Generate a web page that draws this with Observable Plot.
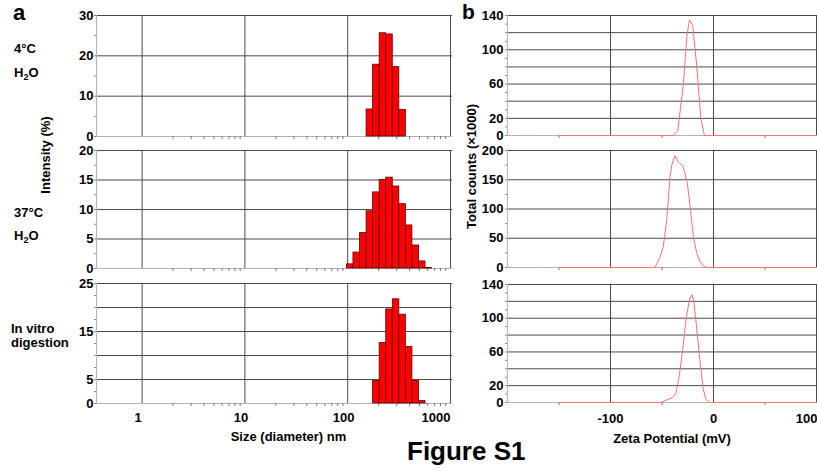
<!DOCTYPE html>
<html><head><meta charset="utf-8">
<script src="https://cdn.jsdelivr.net/npm/d3@7"></script>
<script src="https://cdn.jsdelivr.net/npm/@observablehq/plot@0.6"></script>
<style>
body{margin:0;background:#fff;}
#root{position:relative;width:817px;height:471px;overflow:hidden;background:#fff;font-family:"Liberation Sans",Arial,sans-serif;}
.p{position:absolute;}
#overlay{position:absolute;left:0;top:0;pointer-events:none;}
</style></head><body><div id="root"></div>
<script>
// ---- data: size distribution (intensity %, Malvern size classes, nm) ----
const sizeBins4C  = [164.2, 190.1, 220.2, 255.0, 295.3, 342.0];
const intensity4C = [6.7, 17.8, 25.6, 25.3, 17.2, 6.6];
const sizeBins37C  = [105.7, 122.4, 141.8, 164.2, 190.1, 220.2, 255.0, 295.3, 342.0, 396.1, 458.7, 531.2, 615.1];
const intensity37C = [0.7, 2.7, 6.0, 9.7, 12.9, 15.0, 15.4, 13.9, 10.9, 7.3, 3.9, 1.2, 0.1];
const sizeBinsDig  = [190.1, 220.2, 255.0, 295.3, 342.0, 396.1, 458.7, 531.2];
const intensityDig = [4.7, 12.6, 19.6, 21.7, 18.5, 11.8, 4.7, 0.5];
const binRatio = 1.158;

// ---- data: zeta potential distributions (mV, total counts x1000) ----
const zeta4C   = [-150, -39, -34.7, -29.2, -25.9, -23.4, -20.1, -16.2, -12.3, -8.8, 100];
const counts4C = [0, 0, 5.8, 60, 115, 135, 128, 80, 19.5, 0, 0];
const zeta37C   = [-150, -56.8, -51.9, -48.7, -45.4, -42.2, -40.5, -37.3, -34.1, -29.8, -27.6, -25.3, -22.7, -19.5, -16.2, -13, -9.7, -6.4, 100];
const counts37C = [0, 0, 18, 36, 81, 155, 175, 191, 180, 174, 160, 143, 104, 52, 24, 10, 2, 0, 0];
const zetaDig   = [-150, -50.8, -45.9, -39.5, -36.2, -33, -29.7, -26.4, -23.2, -20.9, -19.3, -16.7, -13.5, -10.2, -7.6, -3.9, 100];
const countsDig = [0, 0, 2.8, 6, 12, 33.7, 65, 101, 122.8, 128, 120.8, 93, 53.5, 17.8, 4, 0, 0];

// ---- ticks ----
const sizeTicks = [1, 10, 100, 1000];
const sizeMinor = [1, 10, 100].flatMap(d => [2,3,4,5,6,7,8,9].map(k => k * d));
const zetaTicks = [-100, 0, 100];
const zetaMinor = [-150, -50, 50];
const yTicks4C = {labels: [0,10,20,30], grid: [10,20,30], minor: [5,15,25]};
const yTicks37C = {labels: [0,5,10,15,20], grid: [5,10,15,20], minor: [2.5,7.5,12.5,17.5]};
const yTicksDig = {labels: [0,5,15,25], grid: [5,10,15,20,25], minor: [2.5,7.5,10,12.5,17.5,20,22.5]};
const yTicksZ140 = {labels: [0,20,60,100,140], grid: [20,40,60,80,100,120,140], minor: [10,30,40,50,70,80,90,110,120,130]};
const yTicksZ200 = {labels: [0,50,100,150,200], grid: [50,100,150,200], minor: [25,75,125,175]};

const gridColor = "#4a4a4a";
const axisColor = "#b4b4b4";
const font = {fontFamily: "'Liberation Sans', Arial, sans-serif", fontSize: "13px", fontWeight: "bold", background: "transparent", color: "#000", overflow: "visible"};
const root = document.getElementById("root");
const sizeDomain = [0.36, 1046];

function place(el, left, top) {
  el.classList.add("p");
  el.style.left = left + "px";
  el.style.top = top + "px";
  root.appendChild(el);
}

function sizePanel(bins, vals, yMax, t, top, mt, innerH, mb, showX) {
  const data = bins.map((s, i) => ({s, v: vals[i]}));
  const f = Math.sqrt(binRatio);
  const lab = {label: null, tickSize: 0, tickPadding: 9, fontSize: 13, fontWeight: "bold", tickFormat: d => String(d)};
  const chart = Plot.plot({
    width: 400, height: mt + innerH + mb,
    marginLeft: 40, marginRight: 4, marginTop: mt, marginBottom: mb,
    style: font,
    x: {type: "log", domain: sizeDomain, label: null},
    y: {domain: [0, yMax], label: null},
    marks: [
      Plot.gridY(t.grid, {stroke: gridColor, strokeOpacity: 1}),
      Plot.gridX(sizeTicks, {stroke: gridColor, strokeOpacity: 1}),
      Plot.ruleX([sizeDomain[0]], {stroke: axisColor}),
      Plot.ruleY([0], {stroke: axisColor}),
      Plot.axisY(t.minor, {label: null, tickSize: 2, tickFormat: () => "", stroke: "#888"}),
      Plot.axisY(t.labels, {label: null, tickSize: 2, tickPadding: 1, stroke: "#888", fill: "#000", fontSize: 13, fontWeight: "bold", tickFormat: d => String(d)}),
      Plot.axisX(sizeMinor, {label: null, tickSize: 3, tickFormat: () => "", stroke: "#777"}),
      showX ? Plot.axisX(sizeTicks.slice(0, 3), {...lab, dx: -4}) : null,
      showX ? Plot.axisX([1000], {...lab, textAnchor: "end"}) : null,
      Plot.rect(data, {x1: d => d.s / f, x2: d => d.s * f, y1: 0, y2: "v", fill: "#ff0000", stroke: "#5c0000", strokeWidth: 0.8})
    ]
  });
  place(chart, 56, top);
}

function zetaPanel(xs, ys, yMax, t, top, mt, innerH, mb, showX) {
  const data = xs.map((x, i) => ({x, y: ys[i]}));
  const lab = {label: null, tickSize: 0, tickPadding: 11, fontSize: 13, fontWeight: "bold", tickFormat: d => String(d)};
  const chart = Plot.plot({
    width: 345, height: mt + innerH + mb,
    marginLeft: 35, marginRight: 1, marginTop: mt, marginBottom: mb,
    style: font,
    x: {domain: [-200, 100], label: null},
    y: {domain: [0, yMax], label: null},
    marks: [
      Plot.gridY(t.grid, {stroke: gridColor, strokeOpacity: 1}),
      Plot.gridX(zetaTicks, {stroke: gridColor, strokeOpacity: 1}),
      Plot.ruleX([-200], {stroke: axisColor}),
      Plot.ruleY([0], {stroke: axisColor}),
      Plot.axisY(t.minor, {label: null, tickSize: 2, tickFormat: () => "", stroke: "#888"}),
      Plot.axisY(t.labels, {label: null, tickSize: 2, tickPadding: 2, stroke: "#888", fill: "#000", fontSize: 13, fontWeight: "bold", tickFormat: d => String(d)}),
      Plot.axisX(zetaMinor, {label: null, tickSize: 3, tickFormat: () => "", stroke: "#777"}),
      showX ? Plot.axisX(zetaTicks.slice(0, 2), lab) : null,
      showX ? Plot.axisX([100], {...lab, textAnchor: "end", dx: 1}) : null,
      Plot.line(data, {x: "x", y: "y", stroke: "#ff7070", strokeWidth: 1})
    ]
  });
  place(chart, 472, top);
}

sizePanel(sizeBins4C, intensity4C, 30, yTicks4C, 9, 6, 121, 5, false);
sizePanel(sizeBins37C, intensity37C, 20, yTicks37C, 144, 6, 118, 4, false);
sizePanel(sizeBinsDig, intensityDig, 25, yTicksDig, 277, 6, 120, 22, true);
zetaPanel(zeta4C, counts4C, 140, yTicksZ140, 9, 6, 120, 5, false);
zetaPanel(zeta37C, counts37C, 200, yTicksZ200, 144, 6, 117, 4, false);
zetaPanel(zetaDig, countsDig, 140, yTicksZ140, 278, 6, 118, 22, true);

// ---- labels ----
const ns = "http://www.w3.org/2000/svg";
const ov = document.createElementNS(ns, "svg");
ov.setAttribute("id", "overlay");
ov.setAttribute("width", 817);
ov.setAttribute("height", 471);
ov.setAttribute("font-family", "'Liberation Sans', Arial, sans-serif");
ov.setAttribute("font-weight", "bold");
ov.innerHTML = `
<text x="13" y="20" font-size="22">a</text>
<text x="462" y="19" font-size="21">b</text>
<text x="14" y="53" font-size="13">4°C</text>
<text x="14" y="77" font-size="13">H<tspan font-size="9" dy="3">2</tspan><tspan dy="-3">O</tspan></text>
<text x="14" y="217" font-size="13">37°C</text>
<text x="14" y="240" font-size="13">H<tspan font-size="9" dy="3">2</tspan><tspan dy="-3">O</tspan></text>
<text x="11" y="333" font-size="13">In vitro</text>
<text x="11" y="347" font-size="13">digestion</text>
<text transform="translate(49.5,155) rotate(-90)" text-anchor="middle" font-size="13">Intensity (%)</text>
<text transform="translate(475.5,166.5) rotate(-90)" text-anchor="middle" font-size="13">Total counts  (×1000)</text>
<text x="288.5" y="441" text-anchor="middle" font-size="13">Size (diameter) nm</text>
<text x="672" y="443" text-anchor="middle" font-size="13">Zeta Potential (mV)</text>
<text x="407" y="460" font-size="26">Figure S1</text>`;
root.appendChild(ov);
</script></body></html>
